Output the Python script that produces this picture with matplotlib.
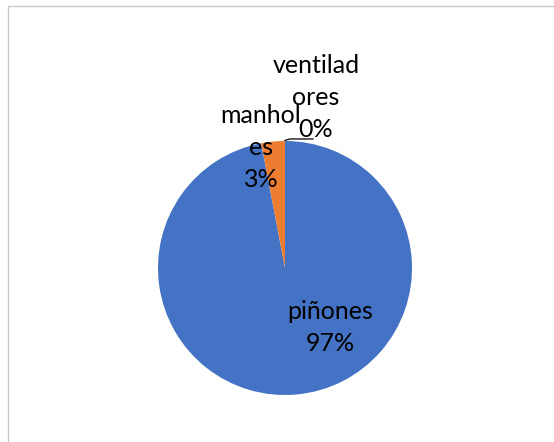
import matplotlib
matplotlib.use('Agg')
import matplotlib.pyplot as plt
from matplotlib.patches import Rectangle

plt.rcParams['font.family'] = ['Lato', 'DejaVu Sans']

# pie data, drawn clockwise from 12 o'clock
categories = ['piñones', 'manholes', 'ventiladores']
values = [97, 3, 0]
pct_labels = ['97%', '3%', '0%']
wrapped = [['piñones'], ['manhol', 'es'], ['ventilad', 'ores']]
colors = ['#4472C4', '#ED7D31', '#A5A5A5']

W, H = 554, 442
fig = plt.figure(figsize=(W / 100, H / 100), dpi=100)
fig.patch.set_facecolor('white')

# chart-area border (only top and left edges fall inside the image)
fig.add_artist(Rectangle((8 / W, -0.1), 1.2, (H - 6) / H + 0.1,
                         transform=fig.transFigure, fill=False,
                         edgecolor='#c8c8c8', linewidth=1.0))

cx, cy, r = 285, 268, 127
ax = fig.add_axes([(cx - r) / W, (H - cy - r) / H, 2 * r / W, 2 * r / H])
ax.pie(values, colors=colors, startangle=90, counterclock=False,
       radius=1.0, wedgeprops=dict(linewidth=0))
ax.set_xlim(-1, 1)
ax.set_ylim(-1, 1)
ax.set_aspect('auto')
ax.axis('off')

# label block centres in axes data units; one text per line
label_pos = [(0.354, -0.465), (-0.189, 0.945), (0.244, 1.339)]
step = 0.252
for name, pct, (x, y) in zip(wrapped, pct_labels, label_pos):
    lines = name + [pct]
    top = y + step * (len(lines) - 1) / 2
    for k, line in enumerate(lines):
        ax.text(x, top - k * step, line, ha='center', va='center',
                fontsize=18, color='black', clip_on=False)

# leader line for the zero slice
ax.plot([0.0, 0.04, 0.22], [1.005, 1.016, 1.016], color='black',
        linewidth=0.9, clip_on=False)

fig.savefig('out.png', dpi=100)
